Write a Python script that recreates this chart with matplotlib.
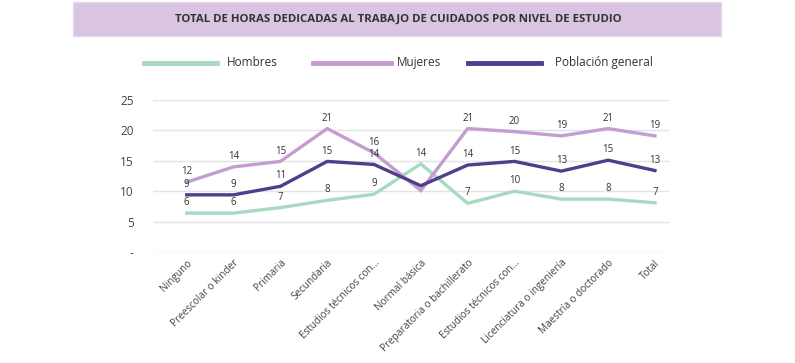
import matplotlib.pyplot as plt
from matplotlib.patches import Rectangle

plt.rcParams['font.family'] = ['Open Sans', 'DejaVu Sans']

niveles = ['Ninguno', 'Preescolar o kinder', 'Primaria', 'Secundaria',
           'Estudios técnicos con...', 'Normal básica', 'Preparatoria o bachillerato',
           'Estudios técnicos con...', 'Licenciatura o ingeniería',
           'Maestría o doctorado', 'Total']

# valores
hombres = [6.4, 6.4, 7.3, 8.5, 9.5, 14.5, 8.0, 10.0, 8.7, 8.7, 8.1]
mujeres = [11.5, 14.0, 14.9, 20.3, 16.3, 10.1, 20.3, 19.8, 19.1, 20.3, 19.1]
poblacion = [9.4, 9.4, 10.8, 14.9, 14.4, 10.9, 14.3, 14.9, 13.3, 15.1, 13.4]

# etiquetas mostradas
et_hombres = [6, 6, 7, 8, 9, 14, 7, 10, 8, 8, 7]
et_mujeres = [12, 14, 15, 21, 16, None, 21, 20, 19, 21, 19]
et_poblacion = [9, 9, 11, 15, 14, None, 14, 15, 13, 15, 13]

c_hom = '#a6dbbf'
c_muj = '#c39dd0'
c_pob = '#4e3f8c'

fig = plt.figure(figsize=(7.95, 3.63), dpi=100)
ax = fig.add_axes([0.1925, 0.3058, 0.649, 0.4187])

x = list(range(len(niveles)))
series = [(hombres, et_hombres, c_hom, 'Hombres'),
          (mujeres, et_mujeres, c_muj, 'Mujeres'),
          (poblacion, et_poblacion, c_pob, 'Población general')]
for vals, ets, col, nom in series:
    ax.plot(x, vals, color=col, lw=2.4, solid_joinstyle='miter', label=nom,
            clip_on=False, zorder=3)
    for xi, v, e in zip(x, vals, ets):
        if e is None:
            continue
        ax.annotate(str(e), (xi, v), xytext=(0, 3.5), textcoords='offset points',
                    ha='center', va='bottom', fontsize=7, color='#333333', zorder=4)

ax.set_xlim(-0.72, 10.3)
ax.set_ylim(0, 25)
ax.set_yticks([0, 5, 10, 15, 20, 25])
ax.set_yticklabels(['-', '5', '10', '15', '20', '25'])
ax.grid(axis='y', color='#e3e3e3', lw=1)
ax.set_axisbelow(True)
for s in ax.spines.values():
    s.set_visible(False)
ax.tick_params(axis='y', length=0, labelsize=8.5, colors='#444444', pad=14)
ax.tick_params(axis='x', length=0, pad=4)
ax.set_xticks(x)
ax.set_xticklabels(niveles, rotation=45, ha='right', rotation_mode='anchor',
                   fontsize=7.2, color='#444444')

# banda del titulo
fig.patches.append(Rectangle((73 / 795, 1 - 36 / 363), 648 / 795, 34 / 363,
                             transform=fig.transFigure, facecolor='#d9c4e1',
                             edgecolor='#e6d8ea', lw=1))
fig.text(398 / 795, 1 - 19 / 363, 'TOTAL DE HORAS DEDICADAS AL TRABAJO DE CUIDADOS POR NIVEL DE ESTUDIO',
         ha='center', va='center', fontsize=8.2, fontweight='bold', color='#333333')

# leyenda
leg = [(144, 217, 227, c_hom, 'Hombres'),
       (313, 391, 397, c_muj, 'Mujeres'),
       (468, 541, 555, c_pob, 'Población general')]
for x0, x1, xt, col, nom in leg:
    fig.add_artist(plt.Line2D([x0 / 795, x1 / 795], [1 - 63 / 363] * 2,
                              transform=fig.transFigure, color=col, lw=3.5))
    fig.text(xt / 795, 1 - 66 / 363, nom, ha='left', va='baseline', fontsize=8.5,
             color='#333333')

fig.savefig('out.png', dpi=100)
